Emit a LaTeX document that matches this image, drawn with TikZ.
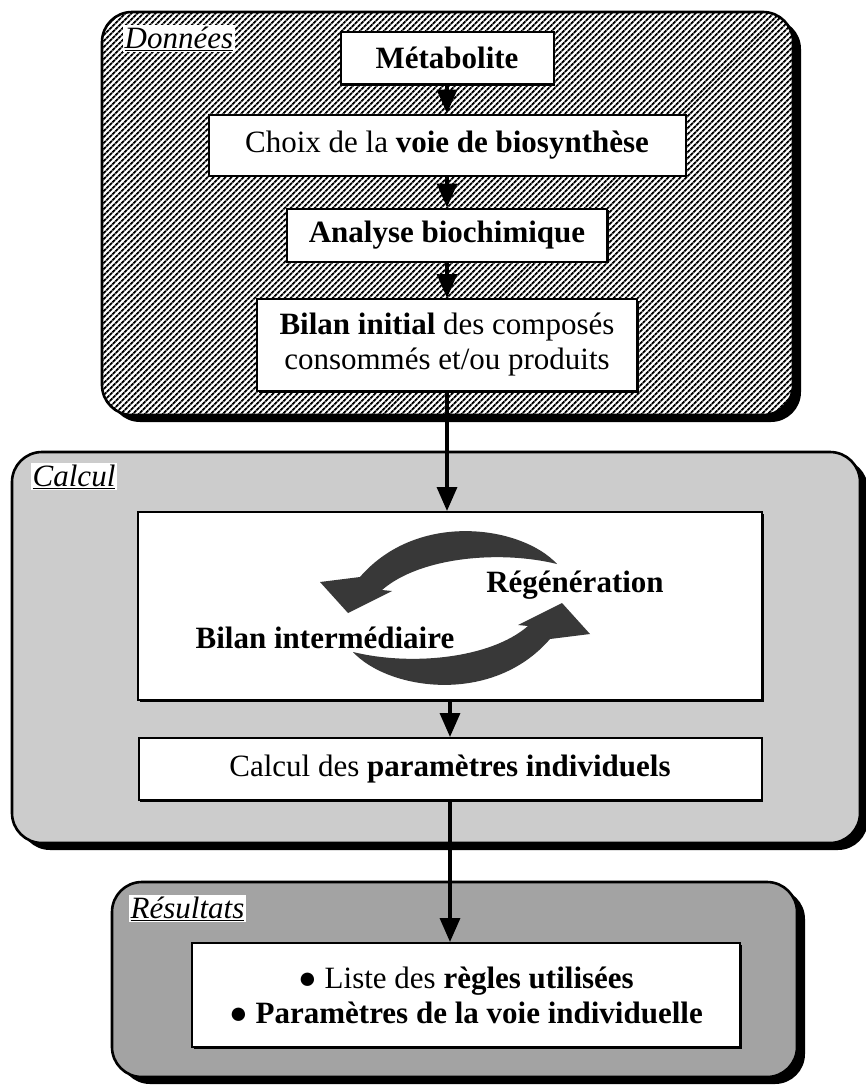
\documentclass[tikz,border=0pt]{standalone}
\usepackage{fontspec}
\setmainfont{Liberation Serif}
\usetikzlibrary{positioning,arrows.meta,shadows,patterns.meta}

\begin{document}
\begin{tikzpicture}[x=1pt,y=-1pt,font=\fontsize{31}{35}\selectfont,
    panel/.style={rectangle,rounded corners=30pt,draw,line width=2.6pt,
      drop shadow={shadow xshift=8pt,shadow yshift=-7pt,opacity=1,fill=black}},
    box/.style={rectangle,draw,line width=2pt,fill=white,inner sep=0pt,align=center,
      drop shadow={shadow xshift=1.5pt,shadow yshift=-1.5pt,opacity=1,fill=black}},
    tag/.style={anchor=base west,fill=white,inner sep=1.5pt,font=\fontsize{31}{35}\selectfont\itshape},
    flow/.style={line width=3.4pt,-{Triangle[length=24pt,width=20pt]}},
    swirl/.style={fill=black!78}]
      \useasboundingbox (0,0) rectangle (866,1087);
      % the three panels
      \node[panel,preaction={fill=white},pattern={Lines[angle=45,distance=4pt,line width=2pt]},
        minimum width=691pt,minimum height=403pt] (donnees) at (447.5,213.5) {};
      \node[panel,fill=black!20,minimum width=848pt,minimum height=391pt] (calcul) at (436,647.5) {};
      \node[panel,fill=black!36,minimum width=685pt,minimum height=195pt] (resultats) at (454.5,979.5) {};
      % panel titles
      \node[tag] (tagdon) at (123,48) {\underline{Données}};
      \node[tag] (tagcal) at (31,486) {\underline{Calcul}};
      \node[tag] (tagres) at (129,918) {\underline{Résultats}};
      % Données
      \node[box,minimum width=213pt,minimum height=52pt] (metab) at (447,58) {\textbf{Métabolite}};
      \node[box,minimum width=477pt,minimum height=61pt] (choix) at (447,145) {Choix de la \textbf{voie de biosynthèse}};
      \node[box,minimum width=320pt,minimum height=53pt] (analyse) at (447,235) {\textbf{Analyse biochimique}};
      \node[box,minimum width=380pt,minimum height=92pt] (bilan) at (447,345) {\textbf{Bilan initial} des composés\\consommés et/ou produits};
      % Calcul
      \node[box,minimum width=624pt,minimum height=188pt] (cyclebox) at (450,606) {};
      \node[box,minimum width=623pt,minimum height=62pt] (param) at (450,769) {Calcul des \textbf{paramètres individuels}};
      % regeneration loop
      \fill[swirl] (557,564) .. controls (522,526) and (418,510) .. (360,577) -- (320,582) -- (348,613)
        -- (392,591) -- (382,590) .. controls (420,557) and (500,550) .. (557,564) -- cycle;
      \fill[swirl] (353,652) .. controls (388,690) and (492,706) .. (550,639) -- (590,634) -- (562,603)
        -- (518,625) -- (528,626) .. controls (490,659) and (410,666) .. (353,652) -- cycle;
      \node[anchor=base] (regen) at (575,592) {\textbf{Régénération}};
      \node[anchor=base] (interm) at (325,648) {\textbf{Bilan intermédiaire}};
      % Résultats
      \node[box,minimum width=548pt,minimum height=104pt] (liste) at (466,995)
        {● Liste des \textbf{règles utilisées}\\\textbf{● Paramètres de la voie individuelle}};
      % flow between the steps
      \draw[flow] (metab.south) -- (metab.south |- choix.north);
      \draw[flow] (choix.south) -- (choix.south |- analyse.north);
      \draw[flow] (analyse.south) -- (analyse.south |- bilan.north);
      \draw[flow] (bilan.south) -- (bilan.south |- cyclebox.north);
      \draw[flow] (cyclebox.south) -- (cyclebox.south |- param.north);
      \draw[flow] (param.south) -- (param.south |- liste.north);
\end{tikzpicture}
\end{document}
